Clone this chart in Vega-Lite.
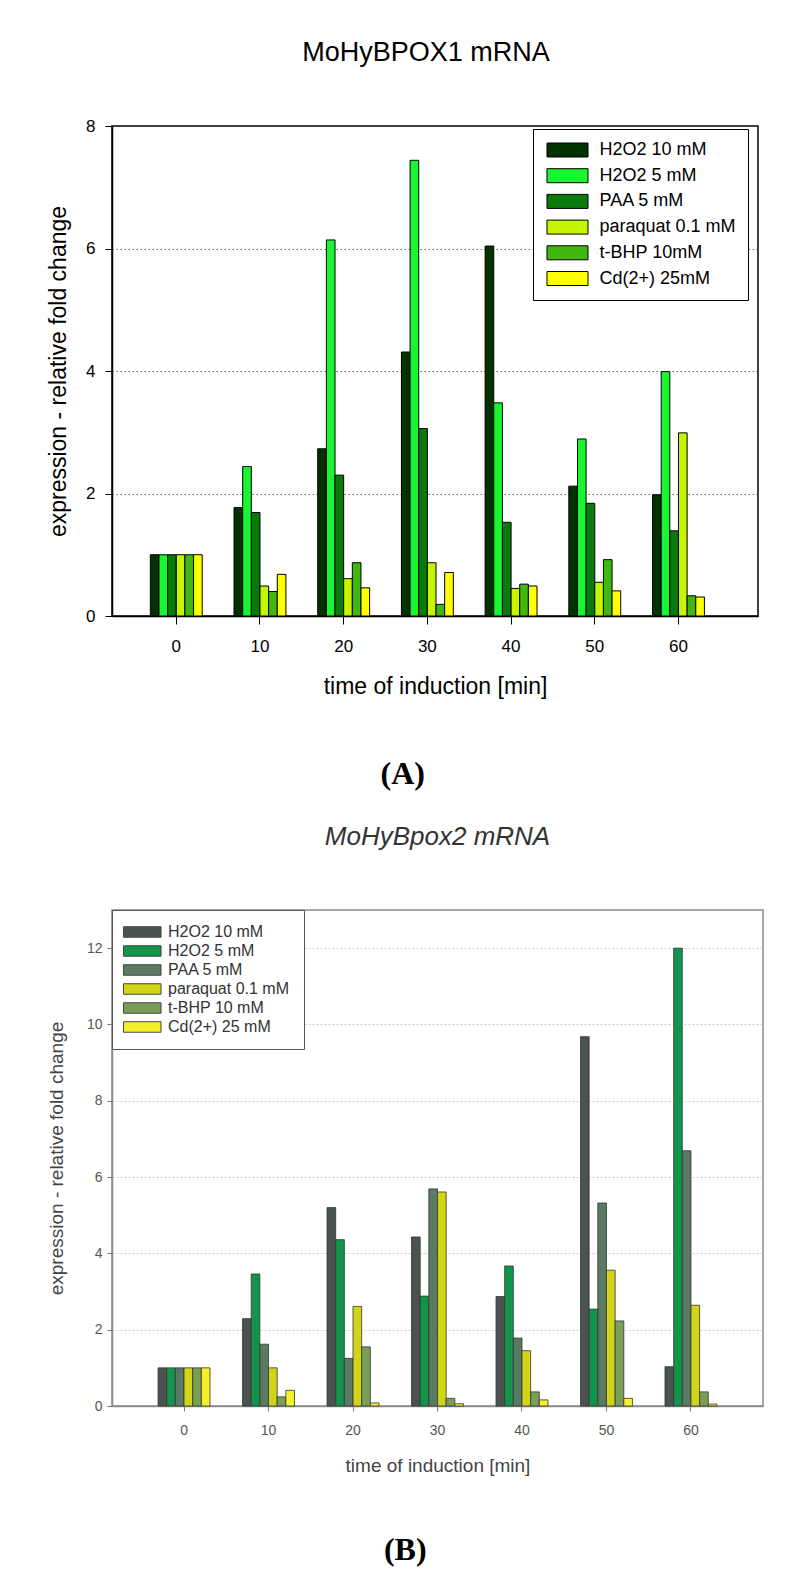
{
  "$schema": "https://vega.github.io/schema/vega-lite/v6.json",
  "background": "#ffffff",
  "padding": {"left": 46, "top": 38, "right": 10, "bottom": 10},
  "spacing": 33,
  "config": {"font": "Liberation Sans", "view": {"stroke": null}},
  "datasets": {
    "a": [
      {"t": 0, "s": "H2O2 10 mM", "v": 1.0}, {"t": 0, "s": "H2O2 5 mM", "v": 1.0}, {"t": 0, "s": "PAA 5 mM", "v": 1.0}, {"t": 0, "s": "paraquat 0.1 mM", "v": 1.0}, {"t": 0, "s": "t-BHP 10mM", "v": 1.0}, {"t": 0, "s": "Cd(2+) 25mM", "v": 1.0},
      {"t": 10, "s": "H2O2 10 mM", "v": 1.77}, {"t": 10, "s": "H2O2 5 mM", "v": 2.44}, {"t": 10, "s": "PAA 5 mM", "v": 1.69}, {"t": 10, "s": "paraquat 0.1 mM", "v": 0.49}, {"t": 10, "s": "t-BHP 10mM", "v": 0.4}, {"t": 10, "s": "Cd(2+) 25mM", "v": 0.68},
      {"t": 20, "s": "H2O2 10 mM", "v": 2.73}, {"t": 20, "s": "H2O2 5 mM", "v": 6.14}, {"t": 20, "s": "PAA 5 mM", "v": 2.3}, {"t": 20, "s": "paraquat 0.1 mM", "v": 0.61}, {"t": 20, "s": "t-BHP 10mM", "v": 0.87}, {"t": 20, "s": "Cd(2+) 25mM", "v": 0.46},
      {"t": 30, "s": "H2O2 10 mM", "v": 4.31}, {"t": 30, "s": "H2O2 5 mM", "v": 7.44}, {"t": 30, "s": "PAA 5 mM", "v": 3.06}, {"t": 30, "s": "paraquat 0.1 mM", "v": 0.87}, {"t": 30, "s": "t-BHP 10mM", "v": 0.19}, {"t": 30, "s": "Cd(2+) 25mM", "v": 0.71},
      {"t": 40, "s": "H2O2 10 mM", "v": 6.04}, {"t": 40, "s": "H2O2 5 mM", "v": 3.48}, {"t": 40, "s": "PAA 5 mM", "v": 1.53}, {"t": 40, "s": "paraquat 0.1 mM", "v": 0.45}, {"t": 40, "s": "t-BHP 10mM", "v": 0.52}, {"t": 40, "s": "Cd(2+) 25mM", "v": 0.49},
      {"t": 50, "s": "H2O2 10 mM", "v": 2.12}, {"t": 50, "s": "H2O2 5 mM", "v": 2.89}, {"t": 50, "s": "PAA 5 mM", "v": 1.84}, {"t": 50, "s": "paraquat 0.1 mM", "v": 0.55}, {"t": 50, "s": "t-BHP 10mM", "v": 0.92}, {"t": 50, "s": "Cd(2+) 25mM", "v": 0.41},
      {"t": 60, "s": "H2O2 10 mM", "v": 1.98}, {"t": 60, "s": "H2O2 5 mM", "v": 3.99}, {"t": 60, "s": "PAA 5 mM", "v": 1.39}, {"t": 60, "s": "paraquat 0.1 mM", "v": 2.99}, {"t": 60, "s": "t-BHP 10mM", "v": 0.33}, {"t": 60, "s": "Cd(2+) 25mM", "v": 0.31}
    ],
    "b": [
      {"t": 0, "s": "H2O2 10 mM", "v": 1.0}, {"t": 0, "s": "H2O2 5 mM", "v": 1.0}, {"t": 0, "s": "PAA 5 mM", "v": 1.0}, {"t": 0, "s": "paraquat 0.1 mM", "v": 1.0}, {"t": 0, "s": "t-BHP 10 mM", "v": 1.0}, {"t": 0, "s": "Cd(2+) 25 mM", "v": 1.0},
      {"t": 10, "s": "H2O2 10 mM", "v": 2.29}, {"t": 10, "s": "H2O2 5 mM", "v": 3.46}, {"t": 10, "s": "PAA 5 mM", "v": 1.62}, {"t": 10, "s": "paraquat 0.1 mM", "v": 1.0}, {"t": 10, "s": "t-BHP 10 mM", "v": 0.24}, {"t": 10, "s": "Cd(2+) 25 mM", "v": 0.41},
      {"t": 20, "s": "H2O2 10 mM", "v": 5.2}, {"t": 20, "s": "H2O2 5 mM", "v": 4.36}, {"t": 20, "s": "PAA 5 mM", "v": 1.25}, {"t": 20, "s": "paraquat 0.1 mM", "v": 2.61}, {"t": 20, "s": "t-BHP 10 mM", "v": 1.55}, {"t": 20, "s": "Cd(2+) 25 mM", "v": 0.08},
      {"t": 30, "s": "H2O2 10 mM", "v": 4.43}, {"t": 30, "s": "H2O2 5 mM", "v": 2.88}, {"t": 30, "s": "PAA 5 mM", "v": 5.69}, {"t": 30, "s": "paraquat 0.1 mM", "v": 5.61}, {"t": 30, "s": "t-BHP 10 mM", "v": 0.2}, {"t": 30, "s": "Cd(2+) 25 mM", "v": 0.06},
      {"t": 40, "s": "H2O2 10 mM", "v": 2.87}, {"t": 40, "s": "H2O2 5 mM", "v": 3.67}, {"t": 40, "s": "PAA 5 mM", "v": 1.78}, {"t": 40, "s": "paraquat 0.1 mM", "v": 1.45}, {"t": 40, "s": "t-BHP 10 mM", "v": 0.37}, {"t": 40, "s": "Cd(2+) 25 mM", "v": 0.16},
      {"t": 50, "s": "H2O2 10 mM", "v": 9.68}, {"t": 50, "s": "H2O2 5 mM", "v": 2.54}, {"t": 50, "s": "PAA 5 mM", "v": 5.32}, {"t": 50, "s": "paraquat 0.1 mM", "v": 3.56}, {"t": 50, "s": "t-BHP 10 mM", "v": 2.23}, {"t": 50, "s": "Cd(2+) 25 mM", "v": 0.2},
      {"t": 60, "s": "H2O2 10 mM", "v": 1.03}, {"t": 60, "s": "H2O2 5 mM", "v": 12.0}, {"t": 60, "s": "PAA 5 mM", "v": 6.69}, {"t": 60, "s": "paraquat 0.1 mM", "v": 2.64}, {"t": 60, "s": "t-BHP 10 mM", "v": 0.37}, {"t": 60, "s": "Cd(2+) 25 mM", "v": 0.05}
    ]
  },
  "resolve": {
    "scale": {"x": "independent", "y": "independent", "color": "independent", "xOffset": "independent"},
    "legend": {"color": "independent"},
    "axis": {"x": "independent", "y": "independent"}
  },
  "vconcat": [
    {
      "title": {"text": "(A)", "orient": "bottom", "anchor": "middle", "frame": "bounds", "font": "Liberation Serif", "fontSize": 32, "fontWeight": "bold", "color": "#000000", "offset": 60},
      "vconcat": [
        {
          "title": {"text": "MoHyBPOX1 mRNA", "font": "Liberation Sans", "fontSize": 27, "fontWeight": "normal", "color": "#000000", "offset": 50, "dx": -9},
          "width": 646,
          "height": 490,
          "view": {"stroke": "#000000", "strokeWidth": 1.5},
          "data": {"name": "a"},
          "mark": {"type": "bar", "stroke": "#000000", "strokeWidth": 1},
          "encoding": {
            "x": {
              "field": "t", "type": "ordinal",
              "scale": {"paddingInner": 0.38, "paddingOuter": 0.549, "align": 0.417},
              "axis": {"title": "time of induction [min]", "labelAngle": 0, "labelFont": "Liberation Sans", "labelFontSize": 17, "labelColor": "#000000", "labelPadding": 14, "tickSize": 8, "tickColor": "#000000", "domainColor": "#000000", "domainWidth": 1.5, "titleFont": "Liberation Sans", "titleFontSize": 23, "titleFontWeight": "normal", "titleColor": "#000000", "titlePadding": 21}
            },
            "xOffset": {"field": "s", "type": "nominal", "sort": ["H2O2 10 mM", "H2O2 5 mM", "PAA 5 mM", "paraquat 0.1 mM", "t-BHP 10mM", "Cd(2+) 25mM"], "scale": {"paddingInner": 0, "paddingOuter": 0}},
            "y": {
              "field": "v", "type": "quantitative",
              "scale": {"domain": [0, 8], "nice": false},
              "axis": {"title": "expression - relative fold change", "values": [0, 2, 4, 6, 8], "labelFont": "Liberation Sans", "labelFontSize": 17, "labelColor": "#000000", "labelPadding": 10, "tickSize": 7, "tickColor": "#000000", "domainColor": "#000000", "domainWidth": 1.5, "grid": true, "gridColor": "#444444", "gridDash": [1.5, 2.5], "gridOpacity": 0.8, "titleFont": "Liberation Sans", "titleFontSize": 23, "titleFontWeight": "normal", "titleColor": "#000000", "titlePadding": 15}
            },
            "color": {
              "field": "s", "type": "nominal",
              "scale": {"domain": ["H2O2 10 mM", "H2O2 5 mM", "PAA 5 mM", "paraquat 0.1 mM", "t-BHP 10mM", "Cd(2+) 25mM"], "range": ["#003300", "#19f530", "#0a7a0a", "#c6f500", "#40b810", "#ffff00"]},
              "legend": {"orient": "none", "legendX": 421, "legendY": 3, "title": null, "symbolType": "M-2.93,-1H2.93V1H-2.93Z", "symbolSize": 196, "symbolStrokeColor": "#000000", "symbolStrokeWidth": 1, "symbolOpacity": 1, "symbolOffset": 13.5, "labelOffset": 23, "labelFont": "Liberation Sans", "labelFontSize": 18, "labelColor": "#000000", "labelLimit": 300, "strokeColor": "#000000", "fillColor": "#ffffff", "padding": 12, "rowPadding": 7.7}
            }
          }
        }
      ]
    },
    {
      "title": {"text": "(B)", "orient": "bottom", "anchor": "middle", "frame": "bounds", "font": "Liberation Serif", "fontSize": 32, "fontWeight": "bold", "color": "#000000", "offset": 59},
      "vconcat": [
        {
          "title": {"text": "MoHyBpox2 mRNA", "font": "Liberation Sans", "fontSize": 26, "fontStyle": "italic", "fontWeight": "normal", "color": "#333333", "offset": 60},
          "width": 651,
          "height": 496,
          "view": {"stroke": "#8a8a8a", "strokeWidth": 1.5},
          "data": {"name": "b"},
          "mark": {"type": "bar", "stroke": "#333333", "strokeWidth": 0.8},
          "encoding": {
            "x": {
              "field": "t", "type": "ordinal",
              "scale": {"paddingInner": 0.385, "paddingOuter": 0.545, "align": 0.5},
              "axis": {"title": "time of induction [min]", "labelAngle": 0, "labelFont": "Liberation Sans", "labelFontSize": 14, "labelColor": "#555555", "labelPadding": 12, "tickSize": 5, "tickColor": "#777777", "domainColor": "#8a8a8a", "domainWidth": 1.5, "titleFont": "Liberation Sans", "titleFontSize": 19, "titleFontWeight": "normal", "titleColor": "#444444", "titlePadding": 19}
            },
            "xOffset": {"field": "s", "type": "nominal", "sort": ["H2O2 10 mM", "H2O2 5 mM", "PAA 5 mM", "paraquat 0.1 mM", "t-BHP 10 mM", "Cd(2+) 25 mM"], "scale": {"paddingInner": 0, "paddingOuter": 0}},
            "y": {
              "field": "v", "type": "quantitative",
              "scale": {"domain": [0, 13], "nice": false},
              "axis": {"title": "expression - relative fold change", "values": [0, 2, 4, 6, 8, 10, 12], "labelFont": "Liberation Sans", "labelFontSize": 14, "labelColor": "#555555", "labelPadding": 5, "tickSize": 5, "tickColor": "#777777", "domainColor": "#8a8a8a", "domainWidth": 1.5, "grid": true, "gridColor": "#cccccc", "gridDash": [2, 2], "titleFont": "Liberation Sans", "titleFontSize": 19, "titleFontWeight": "normal", "titleColor": "#444444", "titlePadding": 20}
            },
            "color": {
              "field": "s", "type": "nominal",
              "scale": {"domain": ["H2O2 10 mM", "H2O2 5 mM", "PAA 5 mM", "paraquat 0.1 mM", "t-BHP 10 mM", "Cd(2+) 25 mM"], "range": ["#4b534e", "#12954a", "#5a7a64", "#d2d418", "#7a9e58", "#f5f02a"]},
              "legend": {"orient": "top-left", "offset": 0, "title": null, "symbolType": "M-3.58,-1H3.58V1H-3.58Z", "symbolSize": 110, "symbolStrokeColor": "#444444", "symbolStrokeWidth": 1, "symbolOpacity": 1, "symbolOffset": 8.25, "labelOffset": 17.8, "labelFont": "Liberation Sans", "labelFontSize": 16, "labelColor": "#333333", "labelLimit": 300, "strokeColor": "#555555", "fillColor": "#ffffff", "padding": 14, "rowPadding": 3}
            }
          }
        }
      ]
    }
  ]
}
